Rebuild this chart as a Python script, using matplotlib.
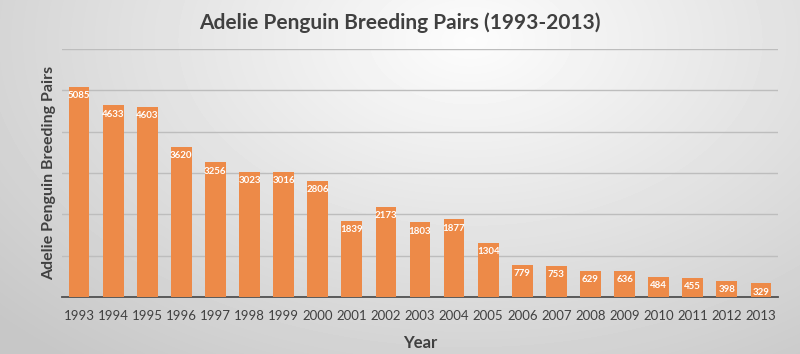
import numpy as np
import matplotlib
matplotlib.use("Agg")
import matplotlib.pyplot as plt

years = [str(y) for y in range(1993, 2014)]
pairs = [5085, 4633, 4603, 3620, 3256, 3023, 3016, 2806, 1839, 2173, 1803,
         1877, 1304, 779, 753, 629, 636, 484, 455, 398, 329]

plt.rcParams['font.family'] = ['Lato', 'DejaVu Sans']

fig = plt.figure(figsize=(8, 3.54), dpi=100)

# radial gray background
bg = fig.add_axes([0, 0, 1, 1], zorder=-10)
yy, xx = np.mgrid[0:354, 0:800]
r = np.sqrt(((xx - 470) / 520.0) ** 2 + ((yy - 40) / 330.0) ** 2)
shade = np.clip(0.99 - 0.17 * r, 0.78, 0.99)
bg.imshow(shade, cmap='gray', vmin=0, vmax=1, aspect='auto', extent=[0, 1, 0, 1])
bg.axis('off')

ax = fig.add_axes([0.0775, 0.161, 0.895, 0.701])
ax.patch.set_alpha(0)
x = np.arange(len(years))
bars = ax.bar(x, pairs, width=0.61, color='#ED8A48', zorder=3)
for xi, v in zip(x, pairs):
    ax.annotate(str(v), (xi, v), xytext=(0, -3), textcoords='offset points',
                ha='center', va='top', color='white', fontsize=7,
                fontweight='bold', zorder=4)

ax.set_xlim(-0.5, len(years) - 0.5)
ax.set_ylim(0, 6000)
ax.set_yticks(range(0, 6001, 1000))
ax.set_yticklabels([])
ax.tick_params(axis='y', length=0)
ax.grid(axis='y', color='#bdbdbd', linewidth=1, zorder=0)
ax.set_xticks(x)
ax.set_xticklabels(years, fontsize=9.5, color='#404040')
ax.tick_params(axis='x', length=0, pad=9)
for s in ['top', 'right', 'left']:
    ax.spines[s].set_visible(False)
ax.spines['bottom'].set_color('#505050')
ax.spines['bottom'].set_linewidth(1.3)

ax.set_ylabel('Adelie Penguin Breeding Pairs', fontsize=11.5, fontweight='bold',
              color='#404040')
ax.yaxis.set_label_coords(-0.008, 0.5)
ax.set_xlabel('Year', fontsize=12, fontweight='bold', color='#404040', labelpad=10)
fig.suptitle('Adelie Penguin Breeding Pairs (1993-2013)', fontsize=15,
             fontweight='bold', color='#404040', y=0.965)

fig.savefig('out.png', dpi=100)
